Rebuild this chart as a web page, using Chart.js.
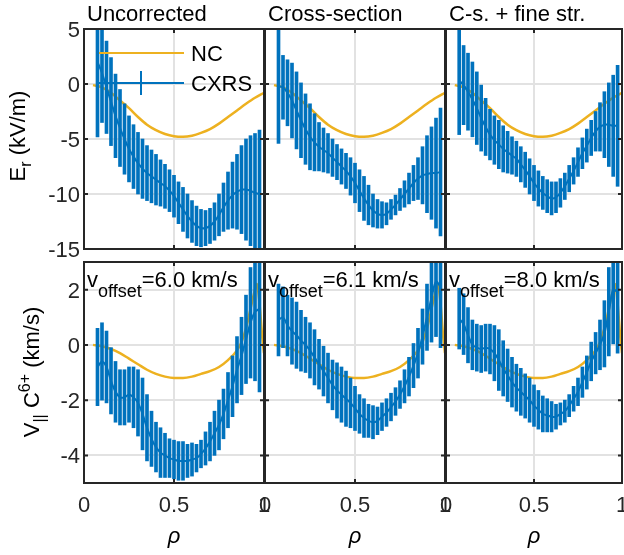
<!DOCTYPE html>
<html>
<head>
<meta charset="utf-8">
<script src="https://cdn.jsdelivr.net/npm/chart.js@4.4.0/dist/chart.umd.min.js"></script>
<style>
html, body { margin: 0; padding: 0; background: #fff; }
#wrap { position: relative; width: 624px; height: 555px; overflow: hidden; }
#wrap canvas { position: absolute; left: 0; top: 0; }
.t { position: absolute; font-family: 'Liberation Sans', Arial, sans-serif; font-size: 22px; line-height: 22px; white-space: nowrap; color: #000; }
.sub { font-size: 18px; position: relative; top: 10px; }
.lsub { font-size: 16px; position: relative; top: 6px; }
.lsup { font-size: 16px; position: relative; top: -9px; }
.rho { font-style: italic; width: 100px; text-align: center; }
.ylab { width: 300px; text-align: center; transform-origin: 0 0; transform: rotate(-90deg); }
</style>
</head>
<body>
<div id="wrap">
  <canvas id="c0" width="624" height="555"></canvas>
  <canvas id="c1" width="624" height="555"></canvas>
  <canvas id="c2" width="624" height="555"></canvas>
  <canvas id="c3" width="624" height="555"></canvas>
  <canvas id="c4" width="624" height="555"></canvas>
  <canvas id="c5" width="624" height="555"></canvas>
</div>
<script>
// radial positions of the CXRS channels
const rho = [0.075, 0.1, 0.125, 0.15, 0.175, 0.2, 0.225, 0.25, 0.275, 0.3,
  0.325, 0.35, 0.375, 0.4, 0.425, 0.45, 0.475, 0.5, 0.525, 0.55,
  0.575, 0.6, 0.625, 0.65, 0.675, 0.7, 0.725, 0.75, 0.775, 0.8,
  0.825, 0.85, 0.875, 0.9, 0.925, 0.95, 0.975];

// Er (kV/m)
const erUncorr = [2.0, 1.0, -0.3, -1.6, -2.9, -4.0, -5.0, -5.9, -6.6, -7.2,
  -7.7, -8.1, -8.4, -8.7, -9.0, -9.3, -9.7, -10.2, -10.8, -11.4,
  -12.0, -12.5, -12.9, -13.1, -13.1, -12.9, -12.5, -11.9, -11.2, -10.6,
  -10.1, -9.8, -9.6, -9.6, -9.7, -9.9, -10.0];
const erUncorrErr = [6.8, 4.5, 4.2, 4.0, 3.8, 3.5, 3.2, 3.0, 2.9, 2.8,
  2.7, 2.5, 2.4, 2.3, 2.1, 2.0, 1.9, 1.9, 1.9, 2.0,
  2.0, 1.9, 1.8, 1.7, 1.6, 1.6, 1.7, 1.9, 2.2, 2.6,
  3.0, 3.4, 4.0, 4.6, 5.0, 5.4, 5.8];
const erCross = [-0.2, -0.3, -0.8, -1.5, -2.4, -3.3, -4.1, -4.8, -5.3, -5.7,
  -6.0, -6.3, -6.7, -7.1, -7.5, -7.9, -8.4, -9.0, -9.7, -10.4,
  -11.0, -11.5, -11.8, -11.9, -11.8, -11.4, -11.0, -10.5, -10.0, -9.5,
  -9.0, -8.6, -8.3, -8.2, -8.1, -8.1, -8.0];
const erCrossErr = [5.2, 2.9, 3.0, 3.4, 3.5, 3.4, 3.2, 3.0, 2.6, 2.2,
  2.0, 1.8, 1.7, 1.6, 1.6, 1.6, 1.7, 1.8, 1.9, 2.0,
  1.8, 1.5, 1.3, 1.2, 1.0, 0.9, 0.9, 1.0, 1.2, 1.4,
  1.6, 1.9, 2.6, 3.5, 4.2, 5.0, 5.8];
const erFine = [0.3, -0.1, -0.7, -1.4, -2.2, -3.1, -3.9, -4.6, -5.1, -5.5,
  -5.9, -6.2, -6.5, -6.8, -7.3, -7.8, -8.4, -9.0, -9.5, -9.9,
  -10.2, -10.4, -10.3, -9.9, -9.3, -8.6, -7.9, -7.1, -6.3, -5.6,
  -4.9, -4.3, -3.9, -3.7, -3.7, -3.8, -3.8];
const erFineErr = [4.9, 3.6, 3.5, 3.4, 3.3, 3.0, 2.6, 2.3, 2.2, 2.2,
  2.1, 1.9, 1.7, 1.6, 1.6, 1.6, 1.6, 1.6, 1.6, 1.5,
  1.5, 1.5, 1.4, 1.3, 1.2, 1.2, 1.2, 1.3, 1.4, 1.5,
  1.6, 1.8, 2.2, 3.0, 3.8, 4.6, 5.5];

// V|| C6+ (km/s)
const vUncorr = [-0.8, -0.6, -0.8, -1.3, -1.7, -1.9, -1.9, -1.8, -1.9, -2.1,
  -2.5, -3.0, -3.4, -3.7, -3.9, -4.0, -4.1, -4.15, -4.2, -4.2,
  -4.2, -4.15, -4.1, -3.95, -3.75, -3.5, -3.2, -2.9, -2.5, -2.0,
  -1.5, -0.9, -0.4, 0.2, 0.8, 1.2, 1.3];
const vUncorrErr = [1.4, 1.4, 1.3, 1.2, 1.1, 1.0, 1.0, 1.0, 1.1, 1.2,
  1.3, 1.2, 1.0, 0.9, 0.9, 0.8, 0.7, 0.7, 0.7, 0.7,
  0.6, 0.6, 0.5, 0.5, 0.6, 0.7, 0.8, 0.9, 0.9, 1.0,
  1.1, 1.2, 1.4, 1.6, 2.0, 2.5, 3.0];
const vCross = [0.9, 1.0, 0.7, 0.5, 0.35, 0.15, 0.0, -0.2, -0.45, -0.7,
  -0.95, -1.2, -1.45, -1.65, -1.8, -1.95, -2.1, -2.3, -2.5, -2.65,
  -2.75, -2.8, -2.75, -2.6, -2.45, -2.25, -2.05, -1.8, -1.5, -1.15,
  -0.75, -0.3, 0.3, 1.0, 1.7, 2.3, 2.1];
const vCrossErr = [1.3, 1.1, 1.1, 1.2, 1.2, 1.1, 1.0, 1.0, 1.0, 0.9,
  0.9, 0.9, 0.9, 1.0, 1.0, 1.0, 0.9, 0.8, 0.7, 0.7,
  0.6, 0.6, 0.5, 0.5, 0.5, 0.5, 0.5, 0.5, 0.6, 0.7,
  0.8, 0.9, 1.0, 1.2, 1.6, 2.0, 2.2];
const vFine = [0.95, 0.75, 0.35, 0.0, -0.1, -0.15, -0.1, -0.15, -0.3, -0.55,
  -0.85, -1.1, -1.35, -1.55, -1.7, -1.85, -2.0, -2.2, -2.35, -2.5,
  -2.55, -2.6, -2.6, -2.5, -2.4, -2.2, -1.95, -1.7, -1.35, -1.0,
  -0.6, -0.3, 0.0, 0.4, 1.2, 2.0, 1.9];
const vFineErr = [1.1, 1.1, 1.0, 0.9, 0.85, 0.85, 0.85, 0.9, 1.0, 1.1,
  1.0, 0.95, 0.9, 0.85, 0.85, 0.8, 0.8, 0.75, 0.7, 0.65,
  0.6, 0.55, 0.45, 0.4, 0.4, 0.4, 0.45, 0.5, 0.55, 0.6,
  0.7, 0.75, 0.9, 1.2, 1.6, 2.0, 2.2];

// neoclassical (NC) predictions
const ncRhoEr = [0.05, 0.1, 0.15, 0.2, 0.25, 0.3, 0.35, 0.4, 0.45, 0.5,
  0.55, 0.6, 0.65, 0.7, 0.75, 0.8, 0.85, 0.9, 0.95, 1.0];
const ncEr = [-0.1, -0.3, -0.8, -1.5, -2.2, -3.0, -3.7, -4.2, -4.55, -4.75,
  -4.8, -4.7, -4.45, -4.1, -3.6, -3.0, -2.4, -1.8, -1.25, -0.8];
const ncRhoV = [0.05, 0.1, 0.15, 0.2, 0.25, 0.3, 0.35, 0.4, 0.45, 0.5,
  0.55, 0.6, 0.65, 0.7, 0.75, 0.8, 0.85, 0.875, 0.9, 0.925,
  0.95, 0.96, 0.975, 0.99, 1.0];
const ncV = [0.0, -0.05, -0.15, -0.3, -0.5, -0.7, -0.9, -1.05, -1.15, -1.2,
  -1.2, -1.15, -1.05, -0.95, -0.8, -0.55, -0.2, 0.1, 0.6, 1.3,
  2.0, 2.2, 1.5, 0.3, -0.3];

const rhoTicks = [0, 0.5, 1];
const erTicks = [-15, -10, -5, 0, 5];
const vTicks = [-4, -2, 0, 2];

const titles = ['Uncorrected', 'Cross-section', 'C-s. + fine str.'];
const offsets = ['6.0', '6.1', '8.0'];

// look
const W = 624, H = 555;
const BLUE = '#0072BD', ORANGE = '#EDB120', GRID = '#e2e2e2', AXIS = '#262626';
const FONT = "'Liberation Sans', Arial, sans-serif";
const cols = [[84, 264], [265, 445], [446, 622]];
const rows = [[29, 249], [262, 483]];
const Y_AXIS_W = 60, X_AXIS_H = 50;

const boxPlugin = {
  id: 'box',
  afterDraw(chart) {
    const {ctx, chartArea: a} = chart;
    const x = chart.scales.x, y = chart.scales.y;
    ctx.save();
    ctx.strokeStyle = AXIS;
    ctx.lineWidth = 2;
    ctx.beginPath();
    x.ticks.forEach(t => {
      const px = x.getPixelForValue(t.value);
      ctx.moveTo(px, a.top); ctx.lineTo(px, a.top + 4);
      ctx.moveTo(px, a.bottom); ctx.lineTo(px, a.bottom - 4);
    });
    y.ticks.forEach(t => {
      const py = y.getPixelForValue(t.value);
      ctx.moveTo(a.left, py); ctx.lineTo(a.left + 4, py);
      ctx.moveTo(a.right, py); ctx.lineTo(a.right - 4, py);
    });
    ctx.stroke();
    ctx.strokeRect(a.left, a.top, a.width, a.height);
    ctx.restore();
  }
};

// legend symbols (labels are html text)
const legendPlugin = {
  id: 'errLegend',
  afterDraw(chart) {
    const {ctx, chartArea: a} = chart;
    ctx.save();
    ctx.lineWidth = 2;
    ctx.strokeStyle = ORANGE;
    ctx.beginPath();
    ctx.moveTo(a.left + 15, a.top + 24); ctx.lineTo(a.left + 100, a.top + 24);
    ctx.stroke();
    ctx.strokeStyle = BLUE;
    ctx.beginPath();
    ctx.moveTo(a.left + 15, a.top + 54); ctx.lineTo(a.left + 100, a.top + 54);
    ctx.moveTo(a.left + 57, a.top + 42); ctx.lineTo(a.left + 57, a.top + 66);
    ctx.stroke();
    ctx.restore();
  }
};

function makePanel(id, col, row, p) {
  const tickFont = {family: FONT, size: 22};
  return new Chart(document.getElementById(id), {
    type: 'line',
    data: {
      datasets: [{
        type: 'line',
        label: 'NC',
        data: p.ncX.map((x, i) => ({x: x, y: p.ncY[i]})),
        borderColor: ORANGE,
        borderWidth: 2.5,
        pointRadius: 0,
        cubicInterpolationMode: 'monotone',
        clip: 0,
        order: 3
      }, {
        type: 'bar',
        label: 'CXRS error',
        data: rho.map((x, i) => ({x: x, y: [p.val[i] - p.err[i], p.val[i] + p.err[i]]})),
        backgroundColor: BLUE,
        borderWidth: 0,
        barThickness: 3,
        clip: 0,
        order: 2
      }, {
        type: 'line',
        label: 'CXRS',
        data: rho.map((x, i) => ({x: x, y: p.val[i]})),
        borderColor: BLUE,
        borderWidth: 2,
        pointRadius: 0,
        tension: 0.3,
        clip: 0,
        order: 1
      }]
    },
    options: {
      responsive: false,
      animation: false,
      events: [],
      layout: {
        autoPadding: false,
        padding: {
          left: col[0] - Y_AXIS_W,
          right: W - col[1],
          top: row[0],
          bottom: H - row[1] - X_AXIS_H
        }
      },
      plugins: {
        legend: {display: false},
        tooltip: {enabled: false},
        title: {display: false}
      },
      scales: {
        x: {
          type: 'linear', min: 0, max: 1, offset: false,
          afterBuildTicks: s => { s.ticks = rhoTicks.map(v => ({value: v})); },
          afterFit: s => { s.height = X_AXIS_H; s.paddingLeft = 0; s.paddingRight = 0; },
          ticks: {display: p.showX, autoSkip: false, maxRotation: 0, padding: 10,
            font: tickFont, color: AXIS, callback: v => String(v)},
          grid: {color: GRID, lineWidth: 2, drawTicks: false, offset: false},
          border: {display: false}
        },
        y: {
          type: 'linear', min: p.yMin, max: p.yMax,
          afterBuildTicks: s => { s.ticks = p.yTicks.map(v => ({value: v})); },
          afterFit: s => { s.width = Y_AXIS_W; s.paddingTop = 0; s.paddingBottom = 0; },
          ticks: {display: p.showY, padding: 4, labelOffset: 2, font: tickFont, color: AXIS,
            callback: v => String(v)},
          grid: {color: GRID, lineWidth: 2, drawTicks: false},
          border: {display: false}
        }
      }
    },
    plugins: p.legend ? [boxPlugin, legendPlugin] : [boxPlugin]
  });
}

const erVals = [[erUncorr, erUncorrErr], [erCross, erCrossErr], [erFine, erFineErr]];
const vVals = [[vUncorr, vUncorrErr], [vCross, vCrossErr], [vFine, vFineErr]];

for (let k = 0; k < 3; k++) {
  makePanel('c' + k, cols[k], rows[0], {
    val: erVals[k][0], err: erVals[k][1], ncX: ncRhoEr, ncY: ncEr,
    yMin: -15, yMax: 5, yTicks: erTicks, showY: k === 0, showX: false, legend: k === 0
  });
  makePanel('c' + (k + 3), cols[k], rows[1], {
    val: vVals[k][0], err: vVals[k][1], ncX: ncRhoV, ncY: ncV,
    yMin: -5, yMax: 3, yTicks: vTicks, showY: k === 0, showX: true, legend: false
  });
}

// text
const wrap = document.getElementById('wrap');
function addText(html, cls, left, top) {
  const d = document.createElement('div');
  d.className = 't ' + cls;
  d.innerHTML = html;
  d.style.left = left + 'px';
  d.style.top = top + 'px';
  wrap.appendChild(d);
}
for (let k = 0; k < 3; k++) {
  addText(titles[k], '', cols[k][0] + 3, 2.5);
  addText('v<span class="sub">offset</span>=' + offsets[k] + ' km/s', '', cols[k][0] + 3, 268.5);
  addText('\u03C1', 'rho', (cols[k][0] + cols[k][1]) / 2 - 50, 524.5);
}
addText('NC', '', 191, 42.5);
addText('CXRS', '', 191, 72.5);
addText('E<span class="lsub">r</span> (kV/m)', 'ylab', 6.5, 136 + 150);
addText('V<span class="lsub">||</span> C<span class="lsup">6+</span> (km/s)', 'ylab', 20.5, 372 + 150);
</script>
</body>
</html>
